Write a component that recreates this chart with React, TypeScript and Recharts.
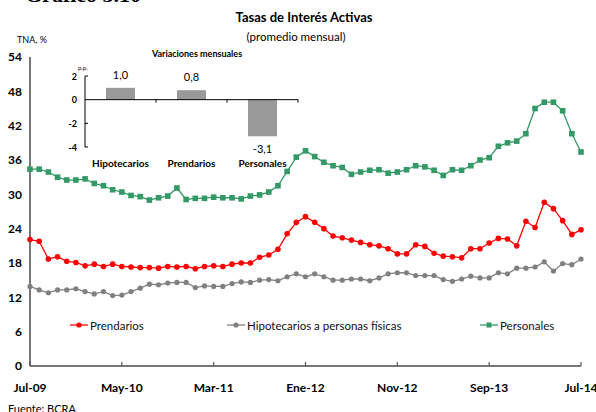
import React from 'react';
import { LineChart, Line, XAxis, YAxis, Legend, BarChart, Bar, ReferenceLine, LabelList } from 'recharts';

const months = [
  'Jul-09','Ago-09','Sep-09','Oct-09','Nov-09','Dic-09','Ene-10','Feb-10','Mar-10','Abr-10',
  'May-10','Jun-10','Jul-10','Ago-10','Sep-10','Oct-10','Nov-10','Dic-10','Ene-11','Feb-11',
  'Mar-11','Abr-11','May-11','Jun-11','Jul-11','Ago-11','Sep-11','Oct-11','Nov-11','Dic-11',
  'Ene-12','Feb-12','Mar-12','Abr-12','May-12','Jun-12','Jul-12','Ago-12','Sep-12','Oct-12',
  'Nov-12','Dic-12','Ene-13','Feb-13','Mar-13','Abr-13','May-13','Jun-13','Jul-13','Ago-13',
  'Sep-13','Oct-13','Nov-13','Dic-13','Ene-14','Feb-14','Mar-14','Abr-14','May-14','Jun-14',
  'Jul-14',
];

const prendarios = [
  22.1, 21.8, 18.7, 19.1, 18.3, 18.1, 17.5, 17.8, 17.4, 17.8,
  17.4, 17.3, 17.2, 17.2, 17.1, 17.4, 17.3, 17.4, 17.0, 17.4,
  17.5, 17.4, 17.8, 18.0, 18.0, 19.0, 19.4, 20.4, 23.1, 25.1,
  26.1, 25.1, 24.0, 22.7, 22.4, 22.0, 21.6, 21.2, 21.0, 20.5,
  19.6, 19.6, 21.2, 20.9, 19.7, 19.2, 19.1, 18.9, 20.5, 20.5,
  21.5, 22.3, 22.2, 21.0, 25.3, 24.2, 28.6, 27.5, 25.4, 23.0,
  23.8,
];

const hipotecarios = [
  13.9, 13.3, 12.8, 13.3, 13.3, 13.5, 13.0, 12.6, 13.0, 12.3,
  12.4, 13.0, 13.6, 14.3, 14.2, 14.5, 14.6, 14.6, 13.7, 14.0,
  13.9, 13.9, 14.4, 14.7, 14.6, 15.0, 15.1, 14.9, 15.6, 16.1,
  15.6, 16.1, 15.6, 15.0, 15.0, 15.2, 15.2, 14.9, 15.4, 16.1,
  16.3, 16.3, 15.8, 15.8, 15.8, 15.1, 14.8, 15.2, 15.7, 15.4,
  15.4, 16.3, 16.1, 17.1, 17.1, 17.3, 18.2, 16.6, 17.9, 17.7,
  18.7,
];

const personales = [
  34.4, 34.4, 33.9, 33.0, 32.5, 32.5, 32.7, 31.9, 31.5, 30.8,
  30.4, 29.8, 29.6, 29.0, 29.4, 29.7, 31.1, 29.1, 29.3, 29.3,
  29.5, 29.4, 29.4, 29.2, 29.7, 29.9, 30.4, 31.5, 34.0, 36.5,
  37.6, 36.6, 35.6, 35.0, 34.7, 33.5, 33.9, 34.2, 34.3, 33.7,
  33.9, 34.3, 35.0, 34.8, 34.2, 33.3, 34.3, 34.2, 35.0, 36.0,
  36.4, 38.4, 39.0, 39.3, 40.6, 45.0, 46.1, 46.1, 44.6, 40.6,
  37.4,
];

const yTicks = [0, 6, 12, 18, 24, 30, 36, 42, 48, 54];

const insetCategories = ['Hipotecarios', 'Prendarios', 'Personales'];
const insetValues = [1.0, 0.8, -3.1];
const insetTicks = [-4, -2, 0, 2];

const mainData = months.map((m, i) => ({
  m,
  prendarios: prendarios[i],
  hipotecarios: hipotecarios[i],
  personales: personales[i],
}));

const insetData = insetCategories.map((c, i) => ({ cat: c, v: insetValues[i] }));

const FONT = 'Lato, "Open Sans", sans-serif';
const RED = '#FF0000';
const GRAY = '#808080';
const GREEN = '#339966';

const XTick = (props: any) => {
  const { x, y, payload } = props;
  return (
    <g>
      <line x1={x} x2={x} y1={y} y2={y - 4} stroke="#555" strokeWidth={1.2} />
      <text x={x} y={y + 26} textAnchor="middle" fontSize={12} fontWeight={700} fill="#000" fontFamily={FONT}>
        {payload.value}
      </text>
    </g>
  );
};

const SquareDot = (props: any) => {
  const { cx, cy, index } = props;
  if (cx == null || cy == null) return <g key={`s${index}`} />;
  return <rect key={`s${index}`} x={cx - 2.8} y={cy - 2.8} width={5.6} height={5.6} fill={GREEN} stroke="none" />;
};

const legendItems = [
  { label: 'Prendarios', color: RED, shape: 'circle', left: 70 },
  { label: 'Hipotecarios a personas físicas', color: GRAY, shape: 'circle', left: 227 },
  { label: 'Personales', color: GREEN, shape: 'square', left: 480 },
];

const LegendContent = () => (
  <div style={{ position: 'relative', width: 596, height: 18, fontFamily: FONT }}>
    {legendItems.map((it) => (
      <div key={it.label} style={{ position: 'absolute', left: it.left, top: 0, display: 'flex', alignItems: 'center', height: 18 }}>
        <svg width={18} height={10} style={{ marginRight: 2 }}>
          <line x1={0} x2={18} y1={5} y2={5} stroke={it.color} strokeWidth={1.3} />
          {it.shape === 'circle' ? (
            <circle cx={9} cy={5} r={2.6} fill={it.color} />
          ) : (
            <rect x={6.5} y={2.5} width={5} height={5} fill={it.color} />
          )}
        </svg>
        <span style={{ fontSize: 11.5, color: '#111', whiteSpace: 'nowrap' }}>{it.label}</span>
      </div>
    ))}
  </div>
);

// Inset geometry
const INSET_W = 262;
const INSET_H = 135;
const INSET_M = { top: 36, right: 4, left: 0, bottom: 8 };
const INSET_YW = 45;
const INSET_XH = 20;
const insetPlotW = INSET_W - INSET_M.left - INSET_M.right - INSET_YW;
const insetPlotH = INSET_H - INSET_M.top - INSET_M.bottom - INSET_XH;
const insetZeroY = INSET_M.top + (insetPlotH * (2 - 0)) / (2 - -4);

const InsetXTick = (props: any) => {
  const { x, y, payload } = props;
  const half = insetPlotW / insetCategories.length / 2;
  return (
    <g>
      <line x1={x + half} x2={x + half} y1={insetZeroY} y2={insetZeroY + 3} stroke="#000" strokeWidth={1} />
      <text x={x} y={y + 20} textAnchor="middle" fontSize={10} fontWeight={700} fill="#000" fontFamily={FONT}>
        {payload.value}
      </text>
    </g>
  );
};

const InsetYTick = (props: any) => {
  const { x, y, payload } = props;
  return (
    <g>
      {payload.value !== 0 && <line x1={x} x2={x + 3} y1={y} y2={y} stroke="#000" strokeWidth={1} />}
      <text x={x - 8} y={y + 3.5} textAnchor="end" fontSize={9} fontWeight={700} fill="#000" fontFamily={FONT}>
        {payload.value}
      </text>
    </g>
  );
};

const ValueLabel = (props: any) => {
  const { x, y, width, height, value } = props;
  const top = Math.min(y, y + height);
  const bot = Math.max(y, y + height);
  const txt = Number(value).toFixed(1).replace('.', ',');
  const ty = value >= 0 ? top - 9 : bot + 17;
  return (
    <text x={x + width / 2} y={ty} textAnchor="middle" fontSize={11} fill="#000" fontFamily={FONT}>
      {txt}
    </text>
  );
};

export default function App() {
  return (
    <div style={{ position: 'fixed', left: 0, top: 0, width: 596, height: 412, background: '#fff', overflow: 'hidden', fontFamily: FONT }}>
      <div style={{ position: 'absolute', left: 25, top: -16, fontFamily: '"Liberation Serif", "Times New Roman", serif', fontWeight: 700, fontSize: 22, lineHeight: '22px', whiteSpace: 'nowrap' }}>
        Gráfico 3.10
      </div>
      <div style={{ position: 'absolute', left: 304, top: 9, transform: 'translateX(-50%)', fontWeight: 700, fontSize: 13, whiteSpace: 'nowrap' }}>
        Tasas de Interés Activas
      </div>
      <div style={{ position: 'absolute', left: 296, top: 30, transform: 'translateX(-50%)', fontSize: 11.5, whiteSpace: 'nowrap' }}>
        (promedio mensual)
      </div>
      <div style={{ position: 'absolute', left: 17, top: 34, fontSize: 9, whiteSpace: 'nowrap' }}>TNA, %</div>
      <div style={{ position: 'absolute', left: 8, top: 402, fontSize: 11, whiteSpace: 'nowrap' }}>Fuente: BCRA</div>

      <div style={{ position: 'absolute', left: 0, top: 0 }}>
        <LineChart width={596} height={412} data={mainData} margin={{ top: 57, right: 15, left: 0, bottom: 16 }}>
          <XAxis
            dataKey="m"
            interval={9}
            tick={<XTick />}
            tickLine={false}
            tickSize={0}
            tickMargin={0}
            height={30}
            axisLine={{ stroke: '#777', strokeWidth: 2 }}
          />
          <YAxis
            domain={[0, 54]}
            ticks={yTicks}
            width={30}
            tickLine={false}
            tickSize={0}
            tickMargin={8}
            axisLine={{ stroke: '#777', strokeWidth: 2 }}
            tick={{ fontSize: 12, fontWeight: 700, fill: '#000', fontFamily: FONT }}
          />
          <Line dataKey="prendarios" stroke={RED} strokeWidth={1.3} dot={{ r: 2.8, fill: RED, stroke: 'none' }} isAnimationActive={false} />
          <Line dataKey="hipotecarios" stroke={GRAY} strokeWidth={1.3} dot={{ r: 2.6, fill: GRAY, stroke: 'none' }} isAnimationActive={false} />
          <Line dataKey="personales" stroke={GREEN} strokeWidth={1.3} dot={SquareDot} isAnimationActive={false} />
          <Legend
            layout="horizontal"
            verticalAlign="middle"
            align="center"
            content={<LegendContent />}
            wrapperStyle={{ top: 316, left: 0, width: 596 }}
          />
        </LineChart>
      </div>

      <div style={{ position: 'absolute', left: 197, top: 48, transform: 'translateX(-50%)', fontWeight: 700, fontSize: 9, whiteSpace: 'nowrap' }}>
        Variaciones mensuales
      </div>
      <div style={{ position: 'absolute', left: 78, top: 64, fontSize: 6, whiteSpace: 'nowrap' }}>p.p.</div>

      <div style={{ position: 'absolute', left: 40, top: 40 }}>
        <BarChart width={INSET_W} height={INSET_H} data={insetData} margin={INSET_M}>
          <XAxis dataKey="cat" axisLine={false} tickLine={false} tickSize={0} tickMargin={0} height={INSET_XH} tick={<InsetXTick />} interval={0} />
          <YAxis
            domain={[-4, 2]}
            ticks={insetTicks}
            width={INSET_YW}
            axisLine={{ stroke: '#000', strokeWidth: 1 }}
            tickLine={false}
            tickSize={0}
            tickMargin={0}
            tick={<InsetYTick />}
          />
          <ReferenceLine y={0} stroke="#000" strokeWidth={1} />
          <Bar dataKey="v" fill="#999999" barSize={29} isAnimationActive={false}>
            <LabelList dataKey="v" content={<ValueLabel />} />
          </Bar>
        </BarChart>
      </div>
    </div>
  );
}
